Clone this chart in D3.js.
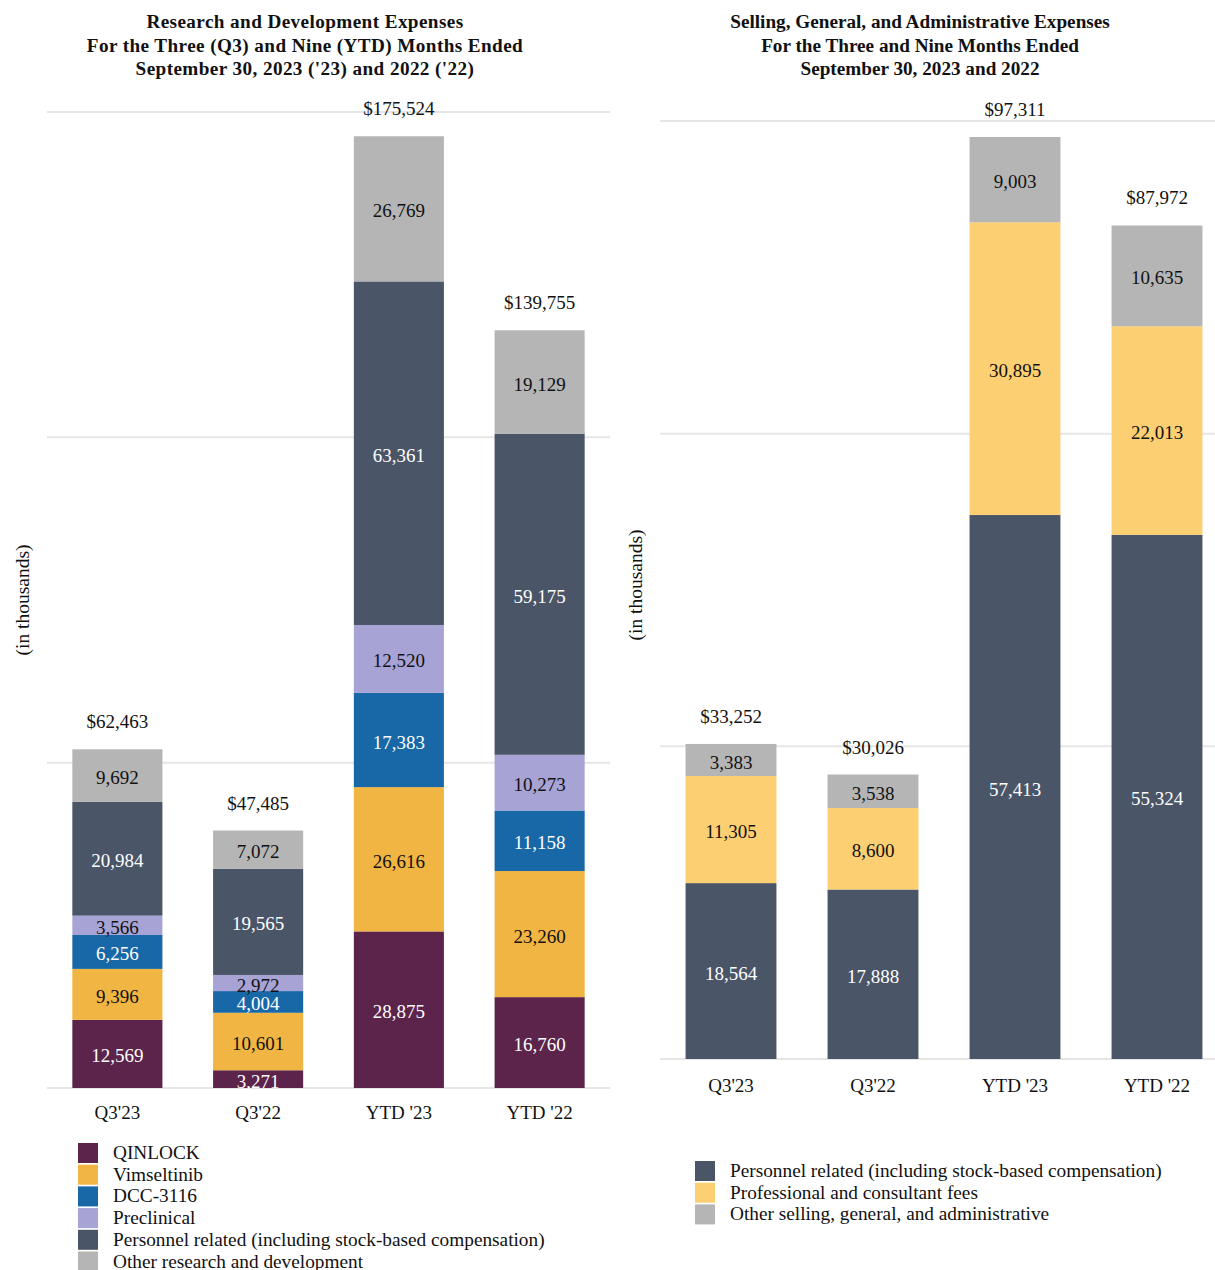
<!DOCTYPE html>
<html>
<head>
<meta charset="utf-8">
<script src="https://cdn.jsdelivr.net/npm/d3@7"></script>
<style>
  body { margin: 0; background: #fff; }
  svg { display: block; font-family: "Liberation Serif", "Times New Roman", serif; }
</style>
</head>
<body>
<svg id="chart" width="1215" height="1270"></svg>
<script>
// categories shared by both panels
const categories = ["Q3'23", "Q3'22", "YTD '23", "YTD '22"];

// R&D expenses (in thousands)
const rdKeys = ["QINLOCK", "Vimseltinib", "DCC-3116", "Preclinical",
  "Personnel related (including stock-based compensation)", "Other research and development"];
const qinlock = [12569, 3271, 28875, 16760];
const vimseltinib = [9396, 10601, 26616, 23260];
const dcc3116 = [6256, 4004, 17383, 11158];
const preclinical = [3566, 2972, 12520, 10273];
const rdPersonnel = [20984, 19565, 63361, 59175];
const rdOther = [9692, 7072, 26769, 19129];
const rdTotals = [62463, 47485, 175524, 139755];
const rdTicks = [0, 60000, 120000, 180000];

// SG&A expenses (in thousands)
const sgaKeys = ["Personnel related (including stock-based compensation)",
  "Professional and consultant fees", "Other selling, general, and administrative"];
const sgaPersonnel = [18564, 17888, 57413, 55324];
const sgaProfessional = [11305, 8600, 30895, 22013];
const sgaOther = [3383, 3538, 9003, 10635];
const sgaTotals = [33252, 30026, 97311, 87972];
const sgaTicks = [0, 33000, 66000, 99000];

const svg = d3.select("#chart");
const fmt = d3.format(",");

function drawPanel(opt) {
  const g = svg.append("g");

  const rows = categories.map((c, i) => {
    const row = { cat: c, total: opt.totals[i] };
    opt.keys.forEach((k, j) => { row[k] = opt.series[j][i]; });
    return row;
  });

  const x = d3.scaleBand()
    .domain(categories)
    .range(opt.xRange)
    .paddingInner(0.36)
    .paddingOuter(0.18);

  const y = d3.scaleLinear()
    .domain([0, d3.max(opt.ticks)])
    .range(opt.yRange);

  // gridlines
  g.append("g")
    .selectAll("line")
    .data(opt.ticks)
    .join("line")
    .attr("x1", opt.gridX[0])
    .attr("x2", opt.gridX[1])
    .attr("y1", d => y(d))
    .attr("y2", d => y(d))
    .attr("stroke", "#e6e6e6")
    .attr("stroke-width", 2);

  const stack = d3.stack().keys(opt.keys);
  const series = stack(rows);

  const layer = g.selectAll(".layer")
    .data(series)
    .join("g")
    .attr("class", "layer")
    .attr("fill", d => opt.colors[d.key]);

  layer.selectAll("rect")
    .data(d => d)
    .join("rect")
    .attr("x", d => x(d.data.cat))
    .attr("width", x.bandwidth())
    .attr("y", d => y(d[1]))
    .attr("height", d => y(d[0]) - y(d[1]));

  // segment labels
  series.forEach(s => {
    g.append("g")
      .selectAll("text")
      .data(s)
      .join("text")
      .attr("x", d => x(d.data.cat) + x.bandwidth() / 2)
      .attr("y", d => (y(d[0]) + y(d[1])) / 2)
      .attr("dy", "0.45em")
      .attr("text-anchor", "middle")
      .attr("font-size", "19px")
      .attr("fill", opt.labelColors[s.key])
      .text(d => fmt(d[1] - d[0]));
  });

  // totals
  g.append("g")
    .selectAll("text")
    .data(rows)
    .join("text")
    .attr("x", d => x(d.cat) + x.bandwidth() / 2)
    .attr("y", d => y(d.total) - 21)
    .attr("text-anchor", "middle")
    .attr("font-size", "19px")
    .attr("fill", "#111")
    .text(d => "$" + fmt(d.total));

  // x axis labels
  const xAxis = g.append("g")
    .attr("transform", `translate(0,${opt.yRange[0]})`)
    .call(d3.axisBottom(x).tickSize(0).tickPadding(opt.tickPad));
  xAxis.select(".domain").remove();
  xAxis.selectAll("text")
    .attr("font-family", "Liberation Serif, serif")
    .attr("font-size", "19px")
    .attr("fill", "#111");

  // y axis title
  g.append("text")
    .attr("transform", `translate(${opt.yTitle[0]},${opt.yTitle[1]}) rotate(-90)`)
    .attr("text-anchor", "middle")
    .attr("dy", "0.35em")
    .attr("font-size", "19.5px")
    .attr("fill", "#111")
    .text("(in thousands)");

  // title
  const title = g.append("text")
    .attr("text-anchor", "middle")
    .attr("font-weight", "bold")
    .attr("font-size", "19.2px")
    .attr("letter-spacing", opt.titleSpacing)
    .attr("fill", "#111");
  opt.title.forEach((t, i) => {
    title.append("tspan")
      .attr("x", opt.titleX)
      .attr("y", opt.titleY + i * 23.5)
      .text(t);
  });

  // legend
  const legend = g.append("g")
    .attr("transform", `translate(${opt.legend[0]},${opt.legend[1]})`);
  opt.keys.forEach((k, i) => {
    const item = legend.append("g")
      .attr("transform", `translate(0,${i * 21.7})`);
    item.append("rect")
      .attr("width", 20)
      .attr("height", 20)
      .attr("fill", opt.colors[k]);
    item.append("text")
      .attr("x", 35)
      .attr("y", 16)
      .attr("font-size", "19.3px")
      .attr("fill", "#111")
      .text(k);
  });
}

drawPanel({
  keys: rdKeys,
  series: [qinlock, vimseltinib, dcc3116, preclinical, rdPersonnel, rdOther],
  totals: rdTotals,
  ticks: rdTicks,
  colors: {
    "QINLOCK": "#5c244a",
    "Vimseltinib": "#f1b543",
    "DCC-3116": "#1868a7",
    "Preclinical": "#a7a3d5",
    "Personnel related (including stock-based compensation)": "#4a5568",
    "Other research and development": "#b5b5b5"
  },
  labelColors: {
    "QINLOCK": "#fff",
    "Vimseltinib": "#111",
    "DCC-3116": "#fff",
    "Preclinical": "#111",
    "Personnel related (including stock-based compensation)": "#fff",
    "Other research and development": "#111"
  },
  xRange: [47, 610],
  yRange: [1088, 112],
  gridX: [47, 610],
  tickPad: 18,
  yTitle: [22, 600],
  title: ["Research and Development Expenses",
    "For the Three (Q3) and Nine (YTD) Months Ended",
    "September 30, 2023 ('23) and 2022 ('22)"],
  titleX: 305,
  titleY: 28,
  titleSpacing: "0.4px",
  legend: [78, 1143]
});

drawPanel({
  keys: sgaKeys,
  series: [sgaPersonnel, sgaProfessional, sgaOther],
  totals: sgaTotals,
  ticks: sgaTicks,
  colors: {
    "Personnel related (including stock-based compensation)": "#4a5568",
    "Professional and consultant fees": "#fdcf73",
    "Other selling, general, and administrative": "#b5b5b5"
  },
  labelColors: {
    "Personnel related (including stock-based compensation)": "#fff",
    "Professional and consultant fees": "#111",
    "Other selling, general, and administrative": "#111"
  },
  xRange: [660, 1228],
  yRange: [1059, 121],
  gridX: [660, 1215],
  tickPad: 20,
  yTitle: [635, 585],
  title: ["Selling, General, and Administrative Expenses",
    "For the Three and Nine Months Ended",
    "September 30, 2023 and 2022"],
  titleX: 920,
  titleY: 28,
  titleSpacing: "0px",
  legend: [695, 1161]
});
</script>
</body>
</html>
